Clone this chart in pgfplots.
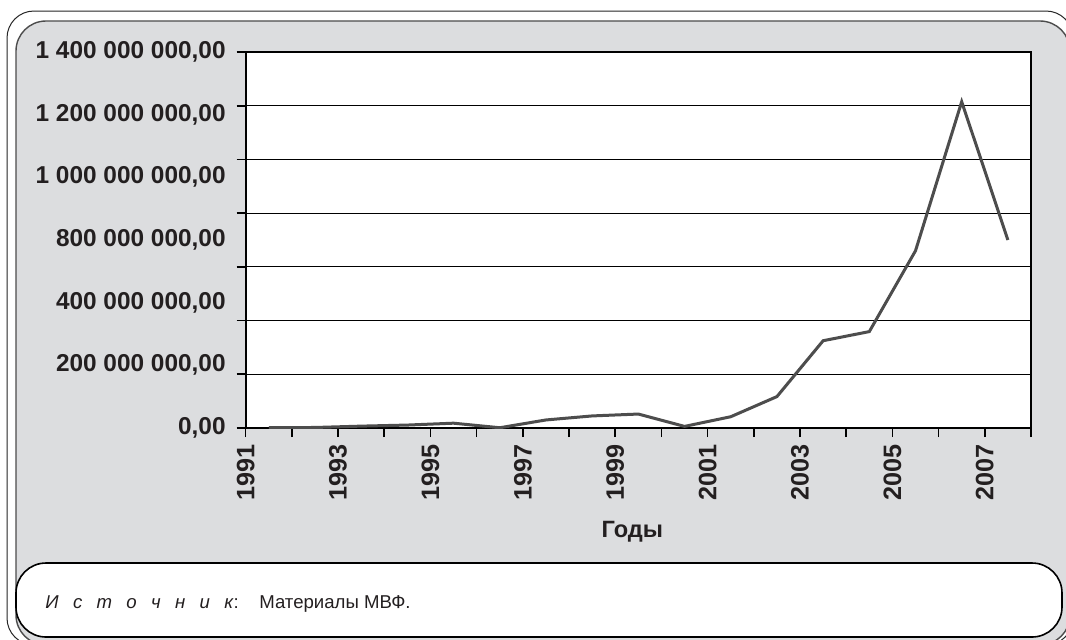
\documentclass[border=0pt]{standalone}
\usepackage{pgfplots}
\usepackage{pgfplotstable}
\pgfplotsset{compat=1.18}
\usepackage{fontspec}
\setmainfont{Liberation Sans}
\definecolor{bggray}{RGB}{220,221,223}
\definecolor{linegray}{RGB}{77,77,77}
\definecolor{txt}{RGB}{35,31,32}

% values in millions
\pgfplotstableread{
year value
1991 1
1992 2
1993 7
1994 11
1995 18
1996 1
1997 30
1998 45
1999 52
2000 6
2001 42
2002 117
2003 325
2004 359
2005 660
2006 1215
2007 700
}\datatable

\begin{document}
\begin{tikzpicture}
\begin{scope}[x=0.5pt,y=-0.5pt]
\useasboundingbox (0,0) rectangle (1066,639);
\draw[line width=0.5pt, black!85, fill=white, rounded corners=13.5pt] (7,11) rectangle (1073,645);
\draw[line width=0.7pt, black!70, fill=bggray, rounded corners=15pt] (16,21) rectangle (1070,645);
\draw[line width=0.8pt, black, fill=white, rounded corners=15pt] (16,563) rectangle (1062,637);
\node[anchor=base west, font=\fontsize{9.3}{11}\selectfont, inner sep=0, text=txt] at (45,608)
 {\textit{И\hspace{0.77em}с\hspace{0.77em}т\hspace{0.77em}о\hspace{0.77em}ч\hspace{0.77em}н\hspace{0.77em}и\hspace{0.77em}к}:\hspace{1.1em}Материалы МВФ.};
\end{scope}
\begin{axis}[
  at={(122.85pt,-214pt)}, anchor=south west,
  scale only axis, width=392.65pt, height=188pt,
  xmin=0, xmax=17, ymin=0, ymax=1400,
  axis background/.style={fill=white},
  axis line style={black, line width=0.9pt},
  xtick={0,...,17},
  xticklabels={1991,,1993,,1995,,1997,,1999,,2001,,2003,,2005,,2007,,},
  xtick pos=bottom, ytick pos=left,
  tick align=outside,
  major tick length=4.5pt,
  tick style={black, line width=0.8pt},
  ytick={0,200,...,1400}, yticklabels={},
  extra y ticks={0,233.333,466.667,700,933.333,1166.667,1400},
  extra y tick labels={{0,00},{200 000 000,00},{400 000 000,00},{800 000 000,00},{1 000 000 000,00},{1 200 000 000,00},{1 400 000 000,00}},
  extra y tick style={grid=none, major tick length=0pt},
  ymajorgrids, grid style={black, line width=0.4pt},
  yticklabel style={font=\fontsize{12.2}{14}\selectfont\bfseries, text=txt, xshift=-6.5pt},
  xticklabel style={font=\fontsize{12.6}{14}\selectfont\bfseries, text=txt, rotate=90, anchor=east},
  xlabel={Годы},
  xlabel style={at={(axis description cs:0.5,0)}, anchor=center, yshift=-52pt, xshift=-3pt, font=\fontsize{11.8}{14}\selectfont\bfseries, text=txt},
]
\addplot[linegray, line width=1.5pt, mark=none] table[x expr=\thisrow{year}-1990.5, y=value] {\datatable};
\end{axis}
\end{tikzpicture}
\end{document}
